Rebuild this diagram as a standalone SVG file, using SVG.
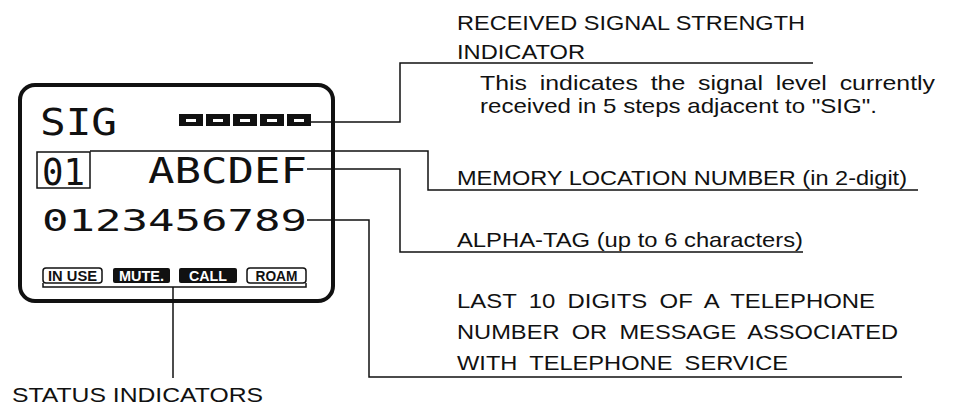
<svg xmlns="http://www.w3.org/2000/svg" width="961" height="410" viewBox="0 0 961 410">
<style>
.lbl{font-family:"Liberation Sans",Arial,sans-serif;font-size:21px;fill:#111}
.lcd{font-family:"DejaVu Sans Mono",monospace;fill:#111}
.st{font-family:"Liberation Sans",Arial,sans-serif;font-size:14px;font-weight:bold;text-anchor:middle}
.ln{fill:none;stroke:#111;stroke-width:1.5}
</style>
<rect width="961" height="410" fill="#fff"/>
<g id="display">
<rect x="20" y="85" width="313" height="216" rx="15" fill="none" stroke="#111" stroke-width="4"/>
<text class="lcd" x="40" y="135" font-size="37" textLength="77" lengthAdjust="spacingAndGlyphs">SIG</text>
<g id="signal-bars" fill="#111">
<rect x="179" y="114" width="24" height="12"/>
<rect x="206" y="114" width="24" height="12"/>
<rect x="233" y="114" width="24" height="12"/>
<rect x="260" y="114" width="24" height="12"/>
<rect x="287" y="114" width="24" height="12"/>
</g>
<g fill="#fff">
<rect x="186" y="119" width="10" height="3"/>
<rect x="213" y="119" width="10" height="3"/>
<rect x="240" y="119" width="10" height="3"/>
<rect x="267" y="119" width="10" height="3"/>
<rect x="294" y="119" width="10" height="3"/>
</g>
<rect x="37" y="152" width="53" height="36" fill="none" stroke="#111" stroke-width="1.5"/>
<text class="lcd" x="42" y="185" font-size="38" textLength="43" lengthAdjust="spacingAndGlyphs">01</text>
<text class="lcd" x="148" y="183" font-size="36" textLength="159" lengthAdjust="spacingAndGlyphs">ABCDEF</text>
<text class="lcd" x="42" y="231" font-size="30" textLength="265" lengthAdjust="spacingAndGlyphs">0123456789</text>
<g id="status-row">
<rect x="43" y="268" width="59" height="15" rx="3" fill="#fff" stroke="#111" stroke-width="1.5"/>
<text class="st" x="72.5" y="280.8" fill="#111" textLength="49" lengthAdjust="spacingAndGlyphs">IN USE</text>
<rect x="113" y="268" width="57" height="15" rx="2" fill="#111"/>
<text class="st" x="141.5" y="280.8" fill="#fff" textLength="45" lengthAdjust="spacingAndGlyphs">MUTE.</text>
<rect x="179" y="268" width="58" height="15" rx="2" fill="#111"/>
<text class="st" x="208" y="280.8" fill="#fff" textLength="38" lengthAdjust="spacingAndGlyphs">CALL</text>
<rect x="247" y="268" width="59" height="15" rx="3" fill="#fff" stroke="#111" stroke-width="1.5"/>
<text class="st" x="276.5" y="280.8" fill="#111" textLength="42" lengthAdjust="spacingAndGlyphs">ROAM</text>
</g>
</g>
<g id="connectors" class="ln">
<path class="ln" d="M311,122 H400 V63 H813"/>
<path class="ln" d="M90,151 H428 V190 H918"/>
<path class="ln" d="M307,169 H400 V252 H803"/>
<path class="ln" d="M307,220 H369 V377 H902"/>
<path class="ln" d="M43,283 V287 H306 V283"/>
<path class="ln" d="M173,287 V378"/>
</g>
<g id="label-rssi">
<text class="lbl" x="457" y="30" textLength="348" lengthAdjust="spacingAndGlyphs">RECEIVED SIGNAL STRENGTH</text>
<text class="lbl" x="457" y="59" textLength="128" lengthAdjust="spacingAndGlyphs">INDICATOR</text>
<text class="lbl" x="480" y="90" word-spacing="5" textLength="455" lengthAdjust="spacingAndGlyphs">This indicates the signal level currently</text>
<text class="lbl" x="480" y="113" textLength="397" lengthAdjust="spacingAndGlyphs">received in 5 steps  adjacent to "SIG".</text>
</g>
<g id="label-memory">
<text class="lbl" x="457" y="185" textLength="450" lengthAdjust="spacingAndGlyphs">MEMORY LOCATION NUMBER (in 2-digit)</text>
</g>
<g id="label-alpha">
<text class="lbl" x="457" y="247" textLength="346" lengthAdjust="spacingAndGlyphs">ALPHA-TAG (up to 6 characters)</text>
</g>
<g id="label-digits">
<text class="lbl" x="457" y="308" word-spacing="5" textLength="418" lengthAdjust="spacingAndGlyphs">LAST 10 DIGITS OF A TELEPHONE</text>
<text class="lbl" x="457" y="339" word-spacing="5" textLength="441" lengthAdjust="spacingAndGlyphs">NUMBER OR MESSAGE ASSOCIATED</text>
<text class="lbl" x="457" y="370" word-spacing="5" textLength="331" lengthAdjust="spacingAndGlyphs">WITH TELEPHONE SERVICE</text>
</g>
<g id="label-status">
<text class="lbl" x="12" y="402" textLength="251" lengthAdjust="spacingAndGlyphs">STATUS INDICATORS</text>
</g>
</svg>
